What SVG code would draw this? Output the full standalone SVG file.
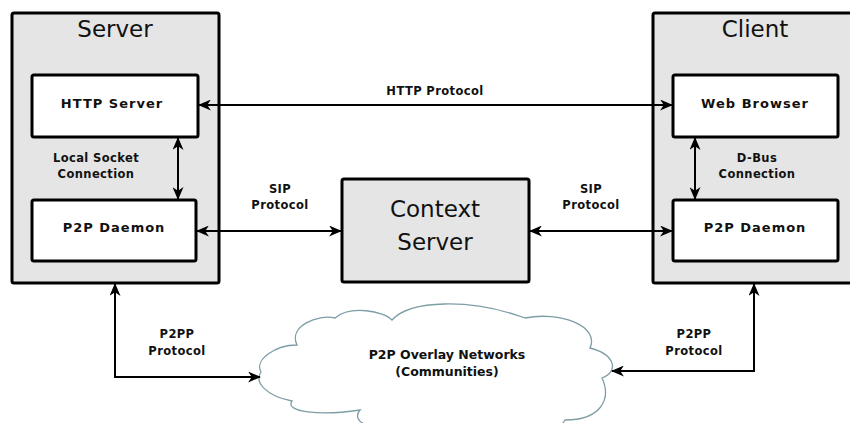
<svg xmlns="http://www.w3.org/2000/svg" width="850" height="423" viewBox="0 0 850 423">
<defs>
<marker id="ah" viewBox="0 0 14 12" refX="13" refY="6" markerWidth="13" markerHeight="11" markerUnits="userSpaceOnUse" orient="auto-start-reverse">
<path d="M0,0 L14,6 L0,12 L4,6 Z" fill="#000"/>
</marker>
<style>
.outer{fill:#e5e5e5;stroke:#000;stroke-width:3}
.inner{fill:#fff;stroke:#000;stroke-width:3}
.title{font-family:"DejaVu Sans",sans-serif;font-size:23px;fill:#111;text-anchor:middle}
.lbl{font-family:"DejaVu Sans",sans-serif;font-size:13px;font-weight:bold;fill:#111;text-anchor:middle;letter-spacing:1px}
.small{font-family:"DejaVu Sans",sans-serif;font-size:11.5px;font-weight:bold;fill:#111;text-anchor:middle;letter-spacing:0.4px}
.cloudtxt{font-family:"DejaVu Sans",sans-serif;font-size:12.5px;font-weight:bold;fill:#111;text-anchor:middle}
.con{fill:none;stroke:#000;stroke-width:2;marker-end:url(#ah)}
.bi{marker-start:url(#ah)}
</style>
</defs>
<g id="server">
<rect class="outer" x="12" y="13" width="207" height="270" rx="2"/>
<text class="title" x="115" y="37">Server</text>
</g>
<g id="http-server">
<rect class="inner" x="32" y="75" width="166" height="62" rx="2"/>
<text class="lbl" x="112" y="108">HTTP Server</text>
</g>
<g id="server-p2p-daemon">
<rect class="inner" x="32" y="200" width="164" height="61" rx="2"/>
<text class="lbl" x="114" y="232">P2P Daemon</text>
</g>
<g id="client">
<rect class="outer" x="653" y="13" width="207" height="270" rx="2"/>
<text class="title" x="755" y="37">Client</text>
</g>
<g id="web-browser">
<rect class="inner" x="673" y="75" width="165" height="62" rx="2"/>
<text class="lbl" x="755" y="108">Web Browser</text>
</g>
<g id="client-p2p-daemon">
<rect class="inner" x="673" y="200" width="165" height="61" rx="2"/>
<text class="lbl" x="755" y="232">P2P Daemon</text>
</g>
<g id="context-server">
<rect class="outer" x="342" y="179" width="187" height="103" rx="2"/>
<text class="title" x="435" y="217">Context</text>
<text class="title" x="435" y="250">Server</text>
</g>
<g id="p2p-overlay">
<path d="M297,345 C288,326 318,314 335,318 C350,305 384,311 392,320 C410,300 470,298 525,318 C560,311 600,326 590,348 C614,354 620,371 602,378 C612,400 600,420 565,420 C556,436 520,440 505,432 C470,446 420,446 400,426 C372,432 350,422 360,410 C320,416 284,412 292,401 C266,396 254,382 261,372 C254,360 275,345 297,345 Z" fill="#fff" stroke="#7e9ea6" stroke-width="1.3"/>
<text class="cloudtxt" x="447" y="359">P2P Overlay Networks</text>
<text class="cloudtxt" x="447" y="376">(Communities)</text>
</g>
<g id="connectors">
<line class="con bi" x1="199" y1="105" x2="672" y2="105"/>
<text class="small" x="435" y="95">HTTP Protocol</text>
<line class="con bi" x1="178" y1="138" x2="178" y2="199"/>
<text class="small" x="96" y="162">Local Socket</text>
<text class="small" x="96" y="178">Connection</text>
<line class="con bi" x1="695" y1="138" x2="695" y2="199"/>
<text class="small" x="757" y="162">D-Bus</text>
<text class="small" x="757" y="178">Connection</text>
<line class="con bi" x1="197" y1="231" x2="341" y2="231"/>
<text class="small" x="280" y="193">SIP</text>
<text class="small" x="280" y="209">Protocol</text>
<line class="con bi" x1="530" y1="231" x2="672" y2="231"/>
<text class="small" x="591" y="193">SIP</text>
<text class="small" x="591" y="209">Protocol</text>
<polyline class="con bi" points="115,284 115,377 260,377"/>
<text class="small" x="177" y="338">P2PP</text>
<text class="small" x="177" y="355">Protocol</text>
<polyline class="con bi" points="754,284 754,371 612,371"/>
<text class="small" x="694" y="338">P2PP</text>
<text class="small" x="694" y="355">Protocol</text>
</g>
</svg>
